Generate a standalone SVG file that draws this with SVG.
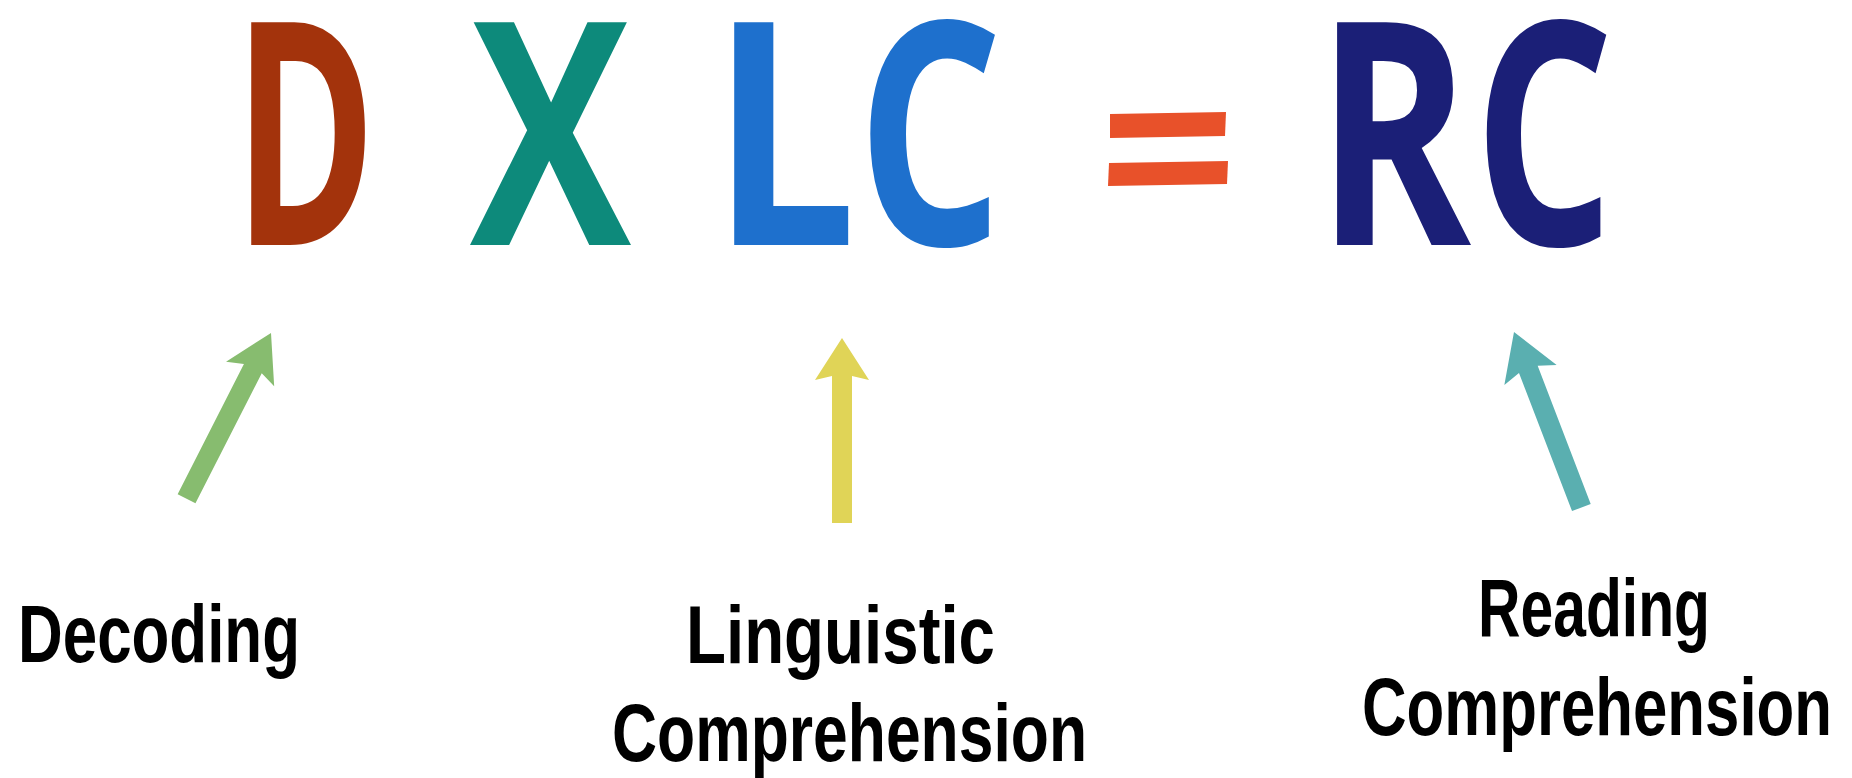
<svg xmlns="http://www.w3.org/2000/svg" width="1852" height="778" viewBox="0 0 1852 778">
<style>
.big{font-family:"Open Sans","Liberation Sans",sans-serif;font-weight:700;font-size:312px}
.lbl{font-family:"Liberation Sans","DejaVu Sans",sans-serif;font-weight:700;font-size:82px;fill:#000}
</style>
<rect width="1852" height="778" fill="#fff"/>
<g id="formula">
<g id="D"><text class="big" x="234" y="245" fill="#A3330C" textLength="142" lengthAdjust="spacingAndGlyphs">D</text></g>
<g id="X"><text class="big" x="470" y="245" fill="#0D8A7B" textLength="161" lengthAdjust="spacingAndGlyphs">X</text></g>
<g id="LC">
<text class="big" x="711" y="245" fill="#1E70CD" textLength="146" lengthAdjust="spacingAndGlyphs">L</text>
<text class="big" x="857" y="245" fill="#1E70CD" textLength="146" lengthAdjust="spacingAndGlyphs">C</text>
</g>
<g id="eq">
<polygon points="1110,114 1226,112 1225,136 1110,138" fill="#E8512A"/>
<polygon points="1109,163 1228,161 1227,184 1108,186" fill="#E8512A"/>
</g>
<g id="RC">
<text class="big" x="1316" y="245" fill="#1B1F77" textLength="155" lengthAdjust="spacingAndGlyphs">R</text>
<text class="big" x="1474" y="245" fill="#1B1F77" textLength="140" lengthAdjust="spacingAndGlyphs">C</text>
</g>
</g>
<g id="connectors">
<polygon transform="translate(271,333) rotate(27)" points="0,0 27,46 10,40 10,186 -10,186 -10,40 -27,46" fill="#87BC6F"/>
<polygon transform="translate(842,338)" points="0,0 27,42 10,38 10,185 -10,185 -10,38 -27,42" fill="#E0D457"/>
<polygon transform="translate(1514,332) rotate(-21)" points="0,0 28,46 10,40 10,188 -10,188 -10,40 -28,46" fill="#5AAFB0"/>
</g>
<g id="decoding"><text class="lbl" x="18" y="662" textLength="282" lengthAdjust="spacingAndGlyphs">Decoding</text></g>
<g id="linguistic">
<text class="lbl" x="686" y="663" textLength="309" lengthAdjust="spacingAndGlyphs">Linguistic</text>
<text class="lbl" x="612" y="761" textLength="475" lengthAdjust="spacingAndGlyphs">Comprehension</text>
</g>
<g id="reading">
<text class="lbl" x="1478" y="636" textLength="232" lengthAdjust="spacingAndGlyphs">Reading</text>
<text class="lbl" x="1362" y="735" textLength="470" lengthAdjust="spacingAndGlyphs">Comprehension</text>
</g>
</svg>
